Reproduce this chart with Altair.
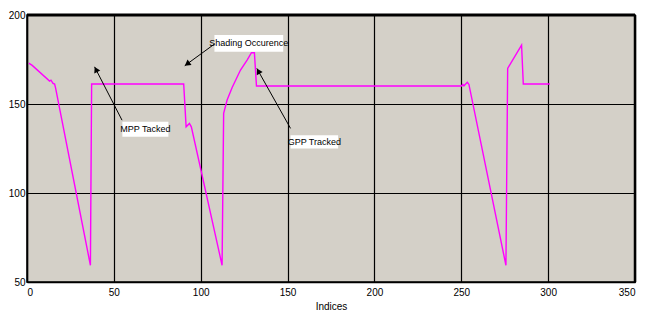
import math
import altair as alt
import pandas as pd

# ---- data ----
idx = [1, 3, 13, 13.8, 15, 15.9, 16.5, 36.5, 37.2, 90.2, 91.6, 93.5, 94.6,
       112.3, 113.2, 115.2, 118.1, 122.9, 126.7, 129.2, 130.9, 132.1,
       250, 250.9, 251.5, 253.5, 254.4, 275.7, 276.7, 284.7, 285.7, 301]
power = [173, 171.7, 162.9, 163.4, 161.6, 161.2, 158.8, 59.4, 161.2, 161.2,
         137.2, 139.1, 137.2, 59.4, 144.7, 152.2, 159.3, 169.1, 174.7, 178.8,
         178.8, 160.1, 160.1, 161.0, 160.2, 162.2, 161.0, 59.4, 170.0, 183.1,
         161.2, 161.2]

ann_text = ["MPP Tacked", "Shading Occurence", "GPP Tracked"]
ann_tx = [68.1, 127.7, 165.4]
ann_ty = [135.8, 184.1, 128.7]
box_x1 = [54.9, 107.9, 151.7]
box_x2 = [81.4, 147.5, 179.1]
box_y1 = [131.6, 179.4, 125.0]
box_y2 = [140.0, 188.8, 132.5]
tail_x = [54.7, 108.5, 151.7]
tail_y = [140.9, 184.1, 136.3]
tip_x = [38.9, 90.8, 132.3]
tip_y = [170.9, 171.5, 170.0]

x_ticks = [0, 50, 100, 150, 200, 250, 300, 350]
y_ticks = [50, 100, 150, 200]

W, H = 608, 267
XMIN, XMAX, YMIN, YMAX = 0, 350, 50, 200
kx = W / (XMAX - XMIN)
ky = H / (YMAX - YMIN)

line_df = pd.DataFrame({"x": idx, "y": power})
box_df = pd.DataFrame({"x1": box_x1, "x2": box_x2, "y1": box_y1, "y2": box_y2})
txt_df = pd.DataFrame({"x": ann_tx, "y": ann_ty, "t": ann_text})
arr_df = pd.DataFrame({"x1": tail_x, "y1": tail_y, "x2": tip_x, "y2": tip_y})

# arrowhead positions / angles (screen space)
hx, hy, ang = [], [], []
for x1, y1, x2, y2 in zip(tail_x, tail_y, tip_x, tip_y):
    dx = (x2 - x1) * kx
    dy = -(y2 - y1) * ky
    L = math.hypot(dx, dy)
    a = math.degrees(math.atan2(dx, -dy)) % 360
    back = 4.0
    hx.append(x2 - (dx / L) * back / kx)
    hy.append(y2 + (dy / L) * back / ky)
    ang.append(a)
head_df = pd.DataFrame({"x": hx, "y": hy, "a": ang})

xs = alt.Scale(domain=[XMIN, XMAX], nice=False)
ys = alt.Scale(domain=[YMIN, YMAX], nice=False)

xaxis = alt.Axis(values=x_ticks, grid=True, gridColor="black", gridWidth=1.2,
                 gridOpacity=1, ticks=False, domain=True, domainColor="black",
                 domainWidth=1.5, labelFont="Liberation Sans", labelFontSize=10,
                 labelColor="black", labelPadding=5, title="Indices",
                 titleFont="Liberation Sans", titleFontSize=10,
                 titleFontWeight="normal", titleColor="black", titlePadding=4)
yaxis = alt.Axis(values=y_ticks, grid=True, gridColor="black", gridWidth=1.2,
                 gridOpacity=1, ticks=False, domain=True, domainColor="black",
                 domainWidth=1.5, labelFont="Liberation Sans", labelFontSize=10,
                 labelColor="black", labelPadding=2, title=None)

line = alt.Chart(line_df).mark_line(color="#ff00ff", strokeWidth=1.4).encode(
    x=alt.X("x:Q", scale=xs, axis=xaxis),
    y=alt.Y("y:Q", scale=ys, axis=yaxis),
)

border_df = pd.DataFrame({"v": [YMAX]})
top = alt.Chart(border_df).mark_rule(color="black", strokeWidth=3).encode(
    y=alt.Y("v:Q", scale=ys), x=alt.value(0), x2=alt.value(W))
right_df = pd.DataFrame({"v": [XMAX]})
right = alt.Chart(right_df).mark_rule(color="black", strokeWidth=2.5).encode(
    x=alt.X("v:Q", scale=xs), y=alt.value(0), y2=alt.value(H))

arrows = alt.Chart(arr_df).mark_rule(color="black", strokeWidth=1).encode(
    x=alt.X("x1:Q", scale=xs), y=alt.Y("y1:Q", scale=ys),
    x2="x2:Q", y2="y2:Q")
heads = alt.Chart(head_df).mark_point(shape="triangle", filled=True,
                                      color="black", opacity=1, size=45).encode(
    x=alt.X("x:Q", scale=xs), y=alt.Y("y:Q", scale=ys),
    angle=alt.Angle("a:Q", scale=None))
boxes = alt.Chart(box_df).mark_rect(color="white").encode(
    x=alt.X("x1:Q", scale=xs), x2="x2:Q",
    y=alt.Y("y1:Q", scale=ys), y2="y2:Q")
texts = alt.Chart(txt_df).mark_text(font="Liberation Sans", fontSize=9,
                                    color="black").encode(
    x=alt.X("x:Q", scale=xs), y=alt.Y("y:Q", scale=ys), text="t:N")

chart = alt.layer(line, arrows, heads, boxes, texts, top, right).properties(
    width=W, height=H,
    autosize=alt.AutoSizeParams(type="none"),
    padding={"left": 27, "top": 15, "right": 33, "bottom": 33},
    background="white",
).configure_view(fill="#d4d0c8", stroke="black", strokeWidth=1.5)

chart.save("out.html", embed_options={"renderer": "svg", "actions": False})
